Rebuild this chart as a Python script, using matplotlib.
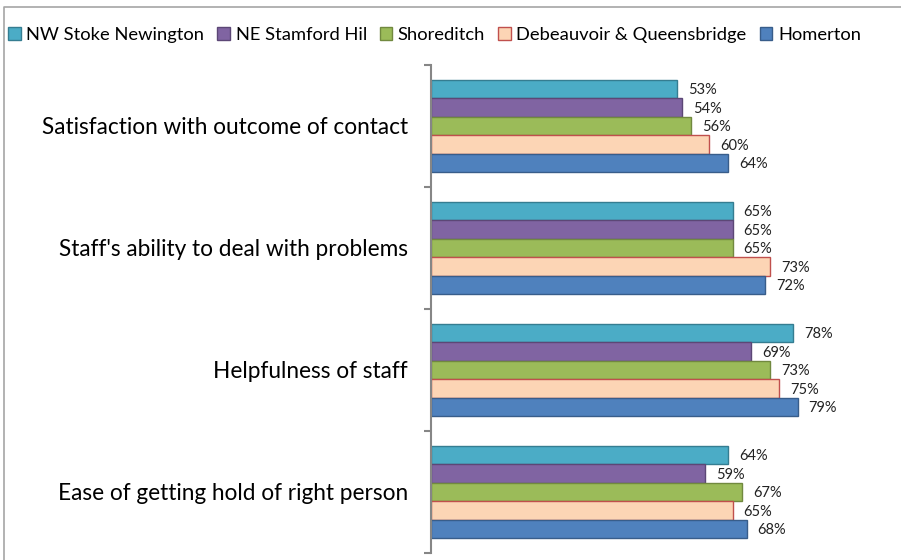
import numpy as np
import matplotlib

matplotlib.use("Agg")
import matplotlib.pyplot as plt
from matplotlib.lines import Line2D
from matplotlib.patches import Patch

plt.rcParams["font.family"] = ["Lato", "DejaVu Sans"]

categories = [
    "Satisfaction with outcome of contact",
    "Staff's ability to deal with problems",
    "Helpfulness of staff",
    "Ease of getting hold of right person",
]
series_names = [
    "NW Stoke Newington",
    "NE Stamford Hil",
    "Shoreditch",
    "Debeauvoir & Queensbridge",
    "Homerton",
]
nw_stoke = [53, 65, 78, 64]
ne_stamford = [54, 65, 69, 59]
shoreditch = [56, 65, 73, 67]
debeauvoir = [60, 73, 75, 65]
homerton = [64, 72, 79, 68]
series_values = [nw_stoke, ne_stamford, shoreditch, debeauvoir, homerton]

face_colors = ["#4BACC6", "#8064A2", "#9BBB59", "#FCD5B5", "#4F81BD"]
edge_colors = ["#357D91", "#5C4776", "#71893F", "#C0504D", "#385D8A"]

fig = plt.figure(figsize=(9.01, 5.6), dpi=100)
ax = fig.add_axes([431 / 901, 1 - 553 / 560, 464 / 901, 488 / 560])

n_series = len(series_names)
group_pos = np.arange(len(categories))
bar_h = 0.76 / n_series
for i, (name, vals) in enumerate(zip(series_names, series_values)):
    y = group_pos - 0.38 + bar_h * (i + 0.5)
    ax.barh(y, vals, height=bar_h, color=face_colors[i], edgecolor=edge_colors[i],
            linewidth=1.0, label=name)
    for yy, v in zip(y, vals):
        ax.annotate(f"{v}%", (v, yy), xytext=(8, -1), textcoords="offset points",
                    ha="left", va="center", fontsize=10.5, color="#222222")

ax.set_xlim(0, 100)
ax.set_ylim(len(categories) - 0.5, -0.5)
ax.set_yticks(group_pos)
ax.set_yticklabels(categories, fontsize=16.3)
ax.set_yticks(np.arange(len(categories) + 1) - 0.5, minor=True)
ax.tick_params(axis="y", which="major", length=0, pad=16.5)
ax.tick_params(axis="y", which="minor", length=5, width=1.5, color="#868686", direction="out")
ax.set_xticks([])
for s in ["top", "right", "bottom"]:
    ax.spines[s].set_visible(False)
ax.spines["left"].set_color("#868686")
ax.spines["left"].set_linewidth(1.5)

handles = [Patch(facecolor=face_colors[i], edgecolor=edge_colors[i], label=series_names[i])
           for i in range(n_series)]
fig.legend(handles=handles, loc="center left", bbox_to_anchor=(8 / 901, 1 - 35 / 560),
           ncol=n_series, frameon=False, fontsize=13.2, handlelength=0.7, handleheight=0.7,
           handletextpad=0.3, columnspacing=0.7, borderpad=0, borderaxespad=0)

# chart border (top and left visible)
fig.add_artist(Line2D([4 / 901, 4 / 901, 1], [0, 1 - 7 / 560, 1 - 7 / 560],
                      transform=fig.transFigure, color="#A6A6A6", linewidth=1.2))

fig.savefig("out.png", dpi=100)
plt.close()
